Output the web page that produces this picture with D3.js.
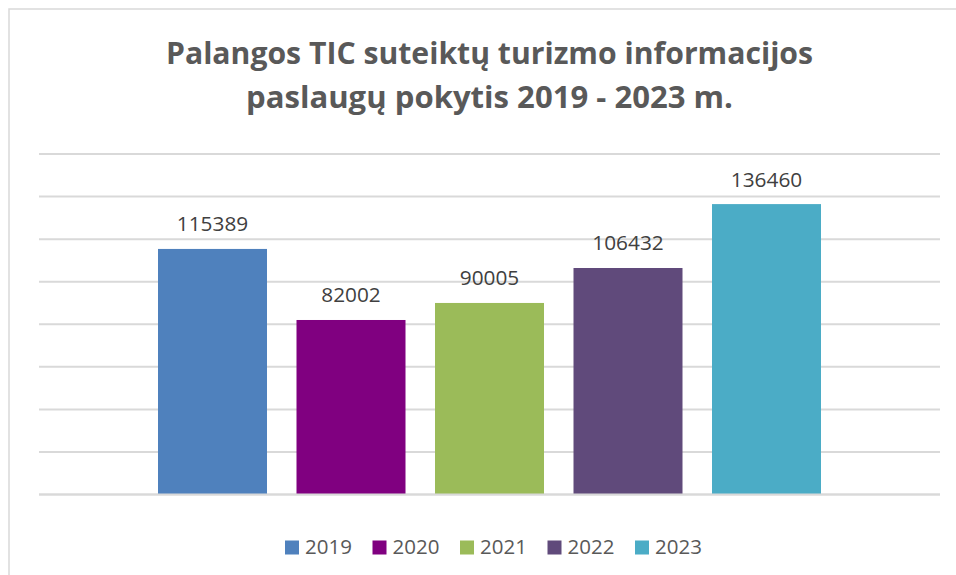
<!DOCTYPE html>
<html>
<head>
<meta charset="utf-8">
<script src="https://cdn.jsdelivr.net/npm/d3@7"></script>
<style>
  html, body { margin: 0; padding: 0; background: #fff; }
  svg { display: block; }
</style>
</head>
<body>
<svg id="chart" width="956" height="575"></svg>
<script>
const years = ["2019", "2020", "2021", "2022", "2023"];
const values = [115389, 82002, 90005, 106432, 136460];
const colors = ["#4F81BD", "#800080", "#9BBB59", "#604A7B", "#4BACC6"];
const titleLines = ["Palangos TIC suteiktų turizmo informacijos", "paslaugų pokytis 2019 - 2023 m."];
const yTicks = [0, 20000, 40000, 60000, 80000, 100000, 120000, 140000, 160000];

const svg = d3.select("#chart");
const W = 956, H = 575;

// chart area border
svg.append("rect")
  .attr("x", 9).attr("y", 9)
  .attr("width", W + 20).attr("height", H + 20)
  .attr("fill", "#fff")
  .attr("stroke", "#D9D9D9").attr("stroke-width", 1.5);

// title
const titleWidths = [647, 487];
const titleBase = [63.5, 107.5];
titleLines.forEach((t, i) => {
  const tx = svg.append("text")
    .attr("x", 489.5).attr("y", titleBase[i])
    .attr("text-anchor", "middle")
    .attr("font-family", "'Open Sans', 'Noto Sans', sans-serif")
    .attr("font-weight", "bold")
    .attr("font-size", 29.5)
    .attr("fill", "#595959")
    .text(t);
  tx.attr("textLength", titleWidths[i]).attr("lengthAdjust", "spacingAndGlyphs");
});

const plotLeft = 39, plotRight = 940;
const y = d3.scaleLinear().domain([0, 160000]).range([494.5, 154]);

// gridlines
svg.append("g").selectAll("line")
  .data(yTicks)
  .join("line")
  .attr("x1", plotLeft).attr("x2", plotRight)
  .attr("y1", d => y(d)).attr("y2", d => y(d))
  .attr("stroke", "#D9D9D9").attr("stroke-width", 2);

// bars: single category, clustered series
const center = (plotLeft + plotRight) / 2;
const step = 138.5;
const x = d3.scaleBand()
  .domain(years)
  .range([center - 2.5 * step, center + 2.5 * step])
  .paddingInner(0.213)
  .paddingOuter(0.1065);

const data = years.map((yr, i) => ({ yr, v: values[i], c: colors[i] }));

svg.append("g").selectAll("rect")
  .data(data)
  .join("rect")
  .attr("x", d => x(d.yr))
  .attr("width", x.bandwidth())
  .attr("y", d => y(d.v))
  .attr("height", d => y(0) - y(d.v))
  .attr("fill", d => d.c);

// re-draw baseline above bars
svg.append("line")
  .attr("x1", plotLeft).attr("x2", plotRight)
  .attr("y1", y(0)).attr("y2", y(0))
  .attr("stroke", "#D9D9D9").attr("stroke-width", 2);

// data labels
svg.append("g").selectAll("text")
  .data(data)
  .join("text")
  .attr("x", d => x(d.yr) + x.bandwidth() / 2)
  .attr("y", d => y(d.v) - 17.5)
  .attr("text-anchor", "middle")
  .attr("font-family", "'Open Sans', 'Noto Sans', sans-serif")
  .attr("font-size", 20.8)
  .attr("fill", "#404040")
  .text(d => d.v);

// legend
const legStart = 285, legStep = 87.5;
const leg = svg.append("g").selectAll("g")
  .data(data)
  .join("g")
  .attr("transform", (d, i) => `translate(${legStart + i * legStep},540.5)`);
leg.append("rect")
  .attr("width", 14).attr("height", 14)
  .attr("fill", d => d.c);
leg.append("text")
  .attr("x", 20).attr("y", 13.5)
  .attr("font-family", "'Open Sans', 'Noto Sans', sans-serif")
  .attr("font-size", 20.5)
  .attr("fill", "#595959")
  .text(d => d.yr);
</script>
</body>
</html>
